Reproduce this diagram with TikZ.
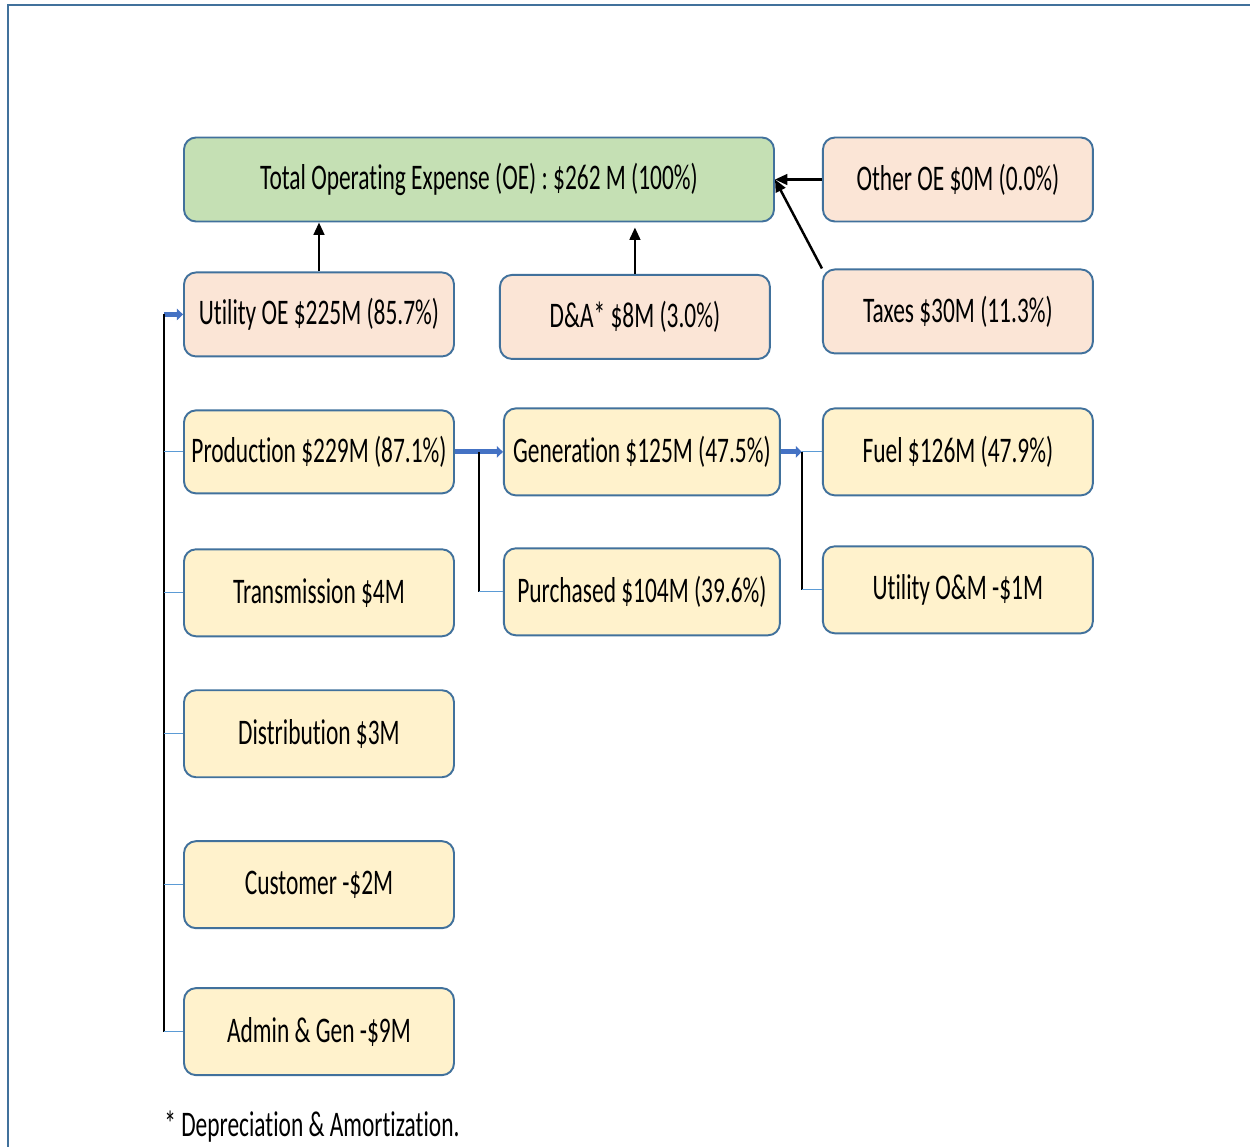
\documentclass[tikz,border=0pt]{standalone}
\usepackage{fontspec}
\setmainfont{Carlito}[FakeStretch=0.65, Ligatures=NoCommon]
\usetikzlibrary{calc}
\usetikzlibrary{positioning}
\usetikzlibrary{arrows,arrows.meta}
\definecolor{boxline}{RGB}{65,113,156}
\definecolor{headfill}{RGB}{197,224,180}
\definecolor{sharefill}{RGB}{251,229,214}
\definecolor{itemfill}{RGB}{255,242,204}
\definecolor{legline}{RGB}{91,155,213}
\definecolor{sumline}{RGB}{68,114,196}
\tikzset{node distance=1cm, % default gap between two boxes
  every node/.style={align=center,
    font=\fontsize{20.5}{24}\selectfont},
  box/.style={ % common look of all boxes
    draw=boxline, line width=1.1pt,
    rounded corners=0.24cm,
    minimum width=5.4cm, minimum height=1.68cm,
    inner sep=0pt},
  head/.style={box, fill=headfill, minimum width=11.8cm},
  share/.style={box, fill=sharefill},
  item/.style={box, fill=itemfill, minimum height=1.74cm},
  feed/.style={ % black arrows into the total
    draw, -{Triangle[length=7pt,width=6pt]},
    line width=1.4pt},
  sum/.style={draw=sumline, line width=2.8pt,
    -{Triangle[length=3.5pt,width=6.5pt]}},
  trunk/.style={draw, line width=1.2pt},
  leg/.style={draw=legline, line width=0.7pt}}

\begin{document}
\begin{tikzpicture}
  \useasboundingbox (0,0) rectangle (25,-22.94);
  \draw [boxline, line width=1.2pt] (25,-0.1) -- (0.16,-0.1) -- (0.16,-22.94);

  \node [head] (total) at (9.58,-3.59) {Total Operating Expense (OE) : \$262 M (100\%)};
  \node [share, right=0.94cm of total] (other) {Other OE \$0M (0.0\%)};
  \node [share, below=0.92cm of other] (taxes) {Taxes \$30M (11.3\%)};
  \node [share, below right=0.98cm and 0cm of total.south west] (util) {Utility OE \$225M (85.7\%)};
  \node [share, right=0.88cm of util, yshift=-0.05cm] (dna) {D\&A* \$8M (3.0\%)};

  \node [item, below=1.04cm of util, minimum height=1.66cm] (prod) {Production \$229M (87.1\%)};
  \node [item, below=1.08cm of prod] (trans) {Transmission \$4M};
  \node [item, below=1.04cm of trans] (dist) {Distribution \$3M};
  \node [item, below=1.24cm of dist] (cust) {Customer -\$2M};
  \node [item, below=1.16cm of cust] (admin) {Admin \& Gen -\$9M};

  \node [item, right=0.96cm of prod, minimum width=5.52cm] (gen) {Generation \$125M (47.5\%)};
  \node [item, below=1.02cm of gen, minimum width=5.52cm] (purch) {Purchased \$104M (39.6\%)};
  \node [item, right=0.82cm of gen] (fuel) {Fuel \$126M (47.9\%)};
  \node [item, below=0.98cm of fuel] (om) {Utility O\&M -\$1M};

  % into the total
  \draw [feed] (util) -- (util |- total.south);
  \draw [feed, shorten >=0.1cm] (dna) -- (dna |- total.south);
  \draw [feed] (other) -- (total);
  \draw [feed] (taxes.north west) -- (total.east);

  % utility OE and its parts
  \coordinate (root) at ($(util.west)+(-0.38,0)$);
  \draw [sum] (root) -- (util);
  \draw [trunk] (root) -- (root |- admin);
  \foreach \part in {prod,trans,dist,cust,admin}
    \draw [leg] (root |- \part) -- (\part);

  % production
  \coordinate (gjoin) at ($(prod.east)!0.5!(gen.west)$);
  \draw [sum] (prod) -- (gen);
  \draw [trunk] (gjoin) -- (gjoin |- purch);
  \draw [leg] (gjoin |- purch) -- (purch);

  % generation
  \coordinate (fjoin) at ($(fuel.west)+(-0.4,0)$);
  \draw [sum] (gen) -- (fjoin);
  \draw [trunk] (fjoin) -- (fjoin |- om);
  \draw [leg] (fjoin) -- (fuel);
  \draw [leg] (fjoin |- om) -- (om);

  \node [anchor=west, inner sep=0pt] (note) at ($(root |- admin.south)+(0,-1.02)$) {* Depreciation \& Amortization.};
\end{tikzpicture}
\end{document}
